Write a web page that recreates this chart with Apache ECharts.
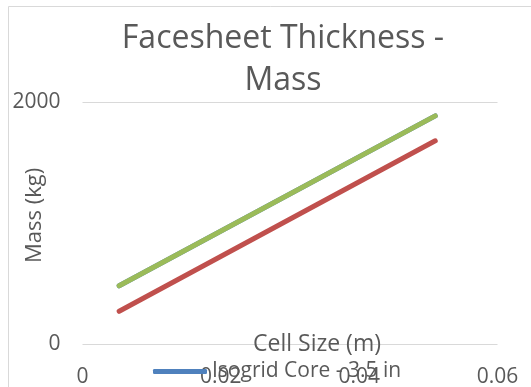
<!DOCTYPE html>
<html>
<head>
<meta charset="utf-8">
<script src="https://cdn.jsdelivr.net/npm/echarts@6/dist/echarts.min.js"></script>
<style>
  html, body { margin: 0; padding: 0; background: #fff; }
  #chart { width: 531px; height: 387px; }
</style>
</head>
<body>
<div id="chart"></div>
<script>
// Cell size (m) at the two ends of each sweep
const cellSize = [0.0053, 0.051];
// Mass (kg) for each core configuration
const massIsogrid35 = [484, 1889];
const massCoreB = [273, 1683];
const massCoreC = [484, 1889];
const xTicks = [0, 0.02, 0.04, 0.06];
const yTicks = [0, 2000];

const seriesNames = ['Isogrid Core - 3.5 in', 'Isogrid Core - 2.5 in', 'Isogrid Core - 4.5 in'];
const seriesColors = ['#4F81BD', '#C0504D', '#9BBB59'];
const seriesValues = [massIsogrid35, massCoreB, massCoreC];

const font = '"Open Sans", "Liberation Sans", sans-serif';
const textColor = '#595959';

const chart = echarts.init(document.getElementById('chart'), null, { renderer: 'canvas' });

chart.setOption({
  animation: false,
  backgroundColor: '#ffffff',
  textStyle: { fontFamily: font },
  title: {
    text: 'Facesheet Thickness -\nMass',
    left: 278,
    top: 13,
    textAlign: 'center',
    textStyle: { fontFamily: font, fontSize: 32, fontWeight: 'normal', color: textColor, lineHeight: 42 }
  },
  graphic: [{
    type: 'rect',
    shape: { x: 8.5, y: 6.5, width: 560, height: 420 },
    style: { fill: 'none', stroke: '#D9D9D9', lineWidth: 1 },
    silent: true,
    z: -1
  }],
  legend: {
    data: [seriesNames[0]],
    left: 148,
    top: 356,
    icon: 'roundRect',
    itemWidth: 54,
    itemHeight: 5,
    itemGap: 6,
    textStyle: { fontFamily: font, fontSize: 21, color: textColor }
  },
  grid: { left: 82.5, right: 33.5, top: 102.5, bottom: 42.7, containLabel: false, outerBoundsMode: 'none' },
  xAxis: {
    type: 'value',
    min: xTicks[0],
    max: xTicks[xTicks.length - 1],
    interval: xTicks[1] - xTicks[0],
    name: 'Cell Size (m)',
    nameLocation: 'middle',
    nameGap: -11,
    nameMoveOverlap: false,
    nameTextStyle: { fontFamily: font, fontSize: 23, color: textColor, padding: [0, 0, 0, 54] },
    axisLine: { show: false },
    axisTick: { show: false },
    splitLine: { show: false },
    axisLabel: { fontFamily: font, fontSize: 21, color: textColor, margin: 22 }
  },
  yAxis: {
    type: 'value',
    min: yTicks[0],
    max: yTicks[yTicks.length - 1],
    interval: yTicks[1] - yTicks[0],
    name: 'Mass (kg)',
    nameLocation: 'middle',
    nameGap: 37,
    nameMoveOverlap: false,
    nameTextStyle: { fontFamily: font, fontSize: 22, color: textColor, padding: [0, 0, 0, 16] },
    axisLine: { show: false },
    axisTick: { show: false },
    splitLine: { show: true, lineStyle: { color: '#D9D9D9', width: 1 } },
    axisLabel: { fontFamily: font, fontSize: 21, color: textColor, margin: 22, formatter: v => String(v) }
  },
  series: seriesNames.map((name, i) => ({
    name: name,
    type: 'line',
    data: cellSize.map((x, j) => [x, seriesValues[i][j]]),
    showSymbol: false,
    symbol: 'none',
    color: seriesColors[i],
    lineStyle: { color: seriesColors[i], width: 5, cap: 'round' },
    z: 2 + i
  }))
});
</script>
</body>
</html>
